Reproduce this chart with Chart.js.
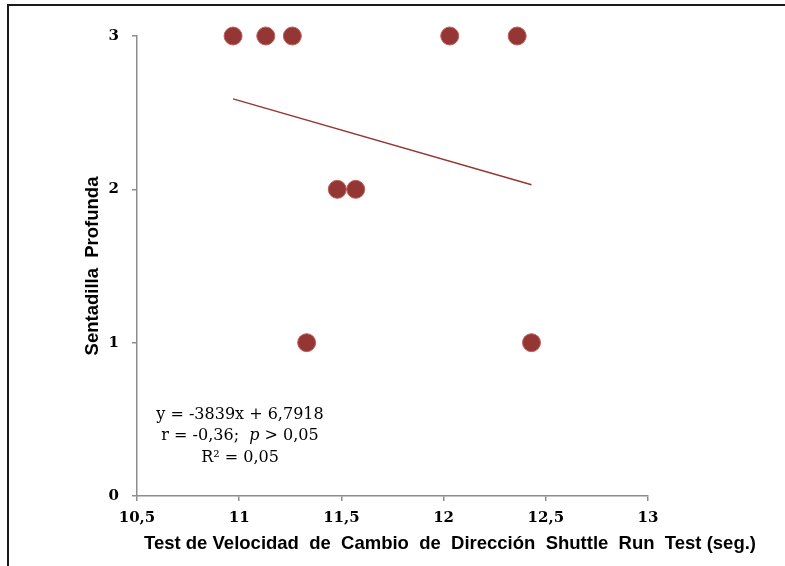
<!DOCTYPE html>
<html>
<head>
<meta charset="utf-8">
<script src="https://cdn.jsdelivr.net/npm/chart.js@4/dist/chart.umd.min.js"></script>
<style>
  html, body { margin: 0; padding: 0; background: #fff; }
  #wrap { width: 785px; height: 566px; position: relative; }
</style>
</head>
<body>
<div id="wrap"><canvas id="scatter"></canvas></div>
<script>
// datos
const shuttleRun = [10.97, 11.13, 11.26, 12.03, 12.36, 11.48, 11.57, 11.33, 12.43];
const sentadilla = [3, 3, 3, 3, 3, 2, 2, 1, 1];
const trendX = [10.97, 12.43];
const trendY = [2.59, 2.03];
const xTicks = [10.5, 11, 11.5, 12, 12.5, 13];
const yTicks = [0, 1, 2, 3];
const xTitle = 'Test de Velocidad  de  Cambio  de  Dirección  Shuttle  Run  Test (seg.)';
const yTitle = 'Sentadilla  Profunda';
const eqLines = ['y = -3839x + 6,7918', 'r = -0,36;  ', 'R² = 0,05'];

const dark = '#943634';

const framePlugin = {
    id: 'frame',
    beforeDraw(chart) {
        const ctx = chart.ctx;
        ctx.save();
        ctx.fillStyle = '#fff';
        ctx.fillRect(0, 0, chart.width, chart.height);
        ctx.strokeStyle = '#1a1a1a';
        ctx.lineWidth = 2;
        ctx.beginPath();
        ctx.moveTo(8, chart.height);
        ctx.lineTo(8, 5);
        ctx.lineTo(chart.width, 5);
        ctx.stroke();
        ctx.restore();
    },
    afterDraw(chart) {
        const ctx = chart.ctx;
        const area = chart.chartArea;
        ctx.save();
        ctx.fillStyle = '#000';
        ctx.textAlign = 'center';
        ctx.textBaseline = 'middle';

        // titulos de ejes
        ctx.font = 'bold 18.5px "Liberation Sans", Arial, sans-serif';
        ctx.fillText(xTitle, 450, 544);
        ctx.font = 'bold 18.5px "Liberation Sans", Arial, sans-serif';
        ctx.translate(93, (area.top + area.bottom) / 2);
        ctx.rotate(-Math.PI / 2);
        ctx.fillText(yTitle, 0, 0);
        ctx.setTransform(1, 0, 0, 1, 0, 0);

        // ecuacion de la recta
        const cx = 240;
        ctx.font = '16px "DejaVu Serif", serif';
        ctx.fillText(eqLines[0], cx, 415);
        // segunda linea con p en cursiva
        const part1 = eqLines[1];
        const pItal = 'p';
        const part2 = ' > 0,05';
        ctx.font = '16px "DejaVu Serif", serif';
        const w1 = ctx.measureText(part1).width;
        const w3 = ctx.measureText(part2).width;
        ctx.font = 'italic 16px "DejaVu Serif", serif';
        const w2 = ctx.measureText(pItal).width;
        let x0 = cx - (w1 + w2 + w3) / 2;
        ctx.textAlign = 'left';
        ctx.font = '16px "DejaVu Serif", serif';
        ctx.fillText(part1, x0, 436);
        ctx.font = 'italic 16px "DejaVu Serif", serif';
        ctx.fillText(pItal, x0 + w1, 436);
        ctx.font = '16px "DejaVu Serif", serif';
        ctx.fillText(part2, x0 + w1 + w2, 436);
        ctx.textAlign = 'center';
        ctx.fillText(eqLines[2], cx, 458);
        ctx.restore();
    }
};

const tickFont = { family: '"DejaVu Serif", serif', size: 15, weight: 'bold' };

new Chart(document.getElementById('scatter'), {
    type: 'scatter',
    data: {
        datasets: [{
            label: 'Sentadilla',
            data: shuttleRun.map((x, i) => ({ x: x, y: sentadilla[i] })),
            backgroundColor: dark,
            borderColor: '#c0605d',
            borderWidth: 1,
            pointRadius: 9,
            pointHoverRadius: 9,
            clip: false,
            order: 1
        }, {
            label: 'Tendencia',
            type: 'line',
            data: trendX.map((x, i) => ({ x: x, y: trendY[i] })),
            borderColor: dark,
            borderWidth: 1.5,
            pointRadius: 0,
            fill: false,
            order: 2
        }]
    },
    options: {
        responsive: true,
        maintainAspectRatio: false,
        animation: false,
        layout: { padding: { left: 0, right: 137, top: 36, bottom: 0 } },
        plugins: {
            legend: { display: false },
            tooltip: { enabled: false }
        },
        scales: {
            x: {
                type: 'linear',
                min: 10.5,
                max: 13,
                afterFit(scale) { scale.height = 70; },
                afterBuildTicks(scale) { scale.ticks = xTicks.map(v => ({ value: v })); },
                ticks: {
                    color: '#000',
                    font: tickFont,
                    padding: 8,
                    maxRotation: 0,
                    callback: v => v.toString().replace('.', ',')
                },
                grid: { drawOnChartArea: false, drawTicks: true, tickLength: 5, color: '#8c8c8c', lineWidth: 1.5 },
                border: { display: true, color: '#8c8c8c', width: 1.5 }
            },
            y: {
                type: 'linear',
                min: 0,
                max: 3,
                afterFit(scale) { scale.width = 137; },
                afterBuildTicks(scale) { scale.ticks = yTicks.map(v => ({ value: v })); },
                ticks: {
                    color: '#000',
                    font: tickFont,
                    padding: 13
                },
                grid: { drawOnChartArea: false, drawTicks: true, tickLength: 5, color: '#8c8c8c', lineWidth: 1.5 },
                border: { display: true, color: '#8c8c8c', width: 1.5 }
            }
        }
    },
    plugins: [framePlugin]
});
</script>
</body>
</html>
